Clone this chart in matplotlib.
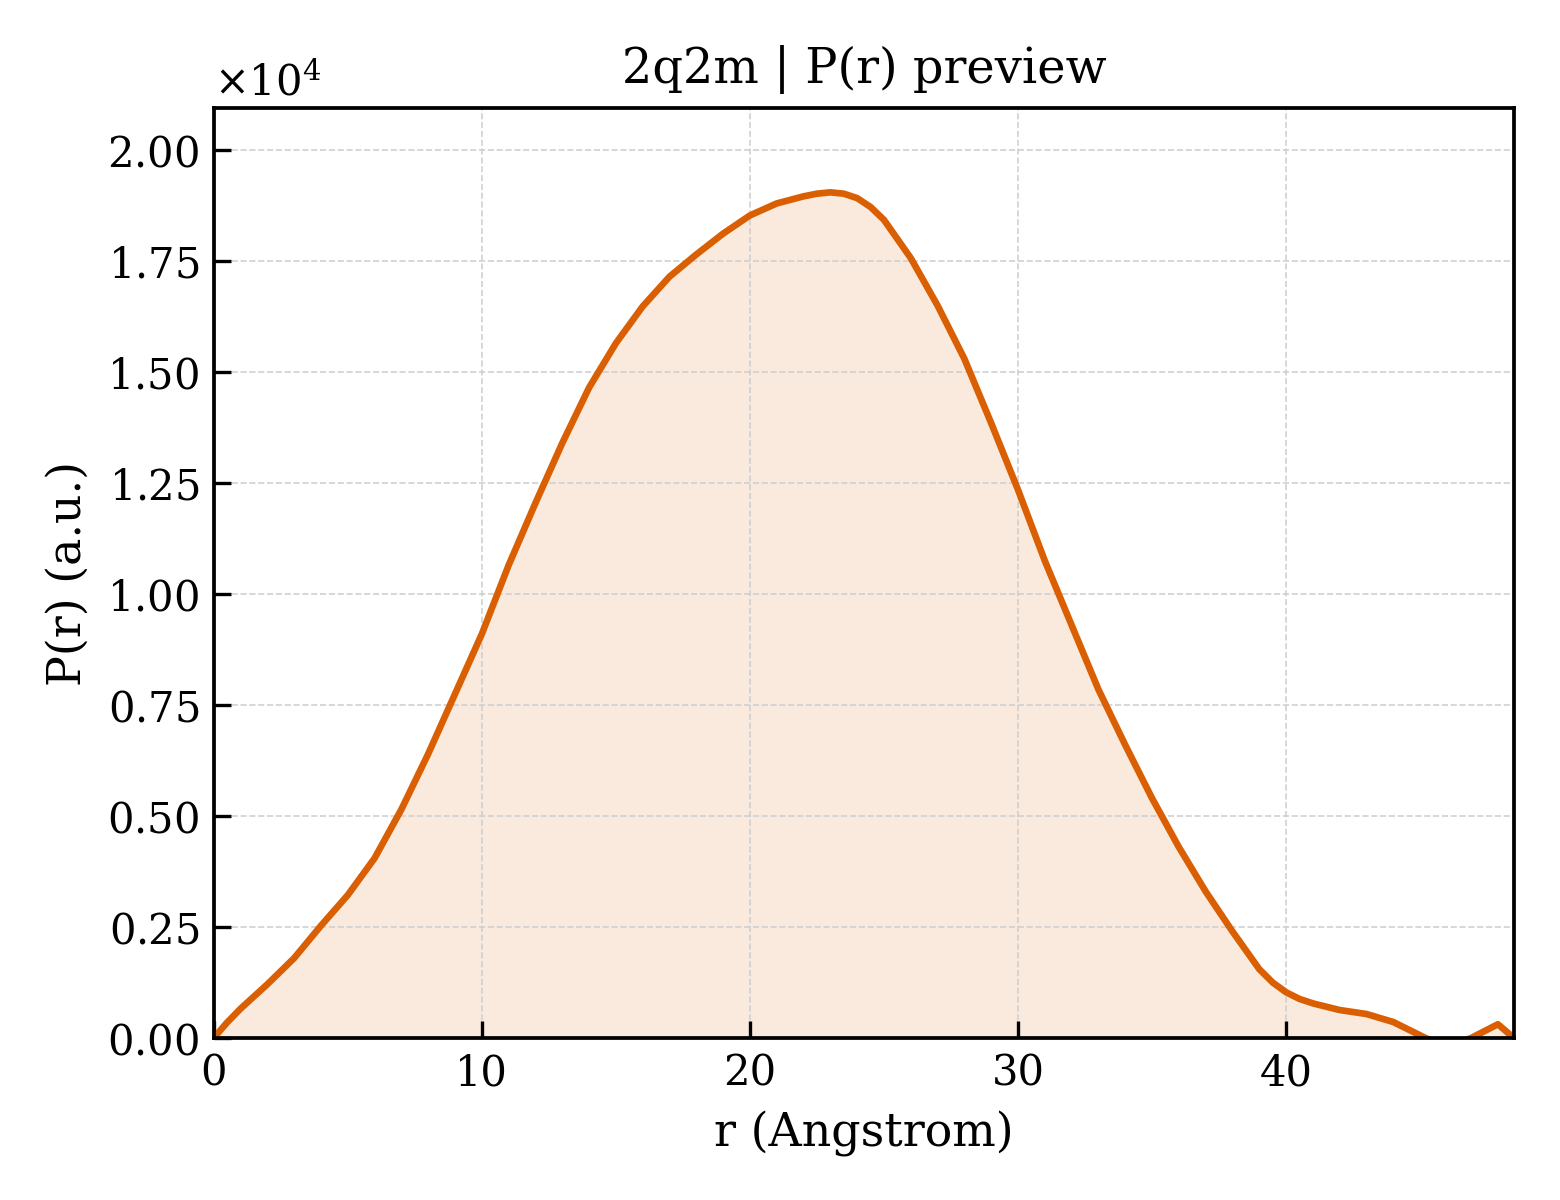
import matplotlib
matplotlib.use("Agg")
import matplotlib.pyplot as plt
from matplotlib.ticker import ScalarFormatter, MultipleLocator

# P(r) curve (r in Angstrom, P in a.u.)
r = [0.0, 0.5, 1.0, 2.0, 3.0, 4.0, 5.0, 6.0, 7.0, 8.0, 9.0, 10.0,
     11.0, 12.0, 13.0, 14.0, 15.0, 16.0, 17.0, 18.0, 19.0, 20.0,
     21.0, 22.0, 22.5, 23.0, 23.5, 24.0, 24.5, 25.0, 26.0, 27.0, 28.0,
     29.0, 30.0, 31.0, 32.0, 33.0, 34.0, 35.0, 36.0, 37.0, 38.0, 39.0,
     39.5, 40.0, 40.5, 41.0, 42.0, 43.0, 44.0, 45.2, 46.0, 46.9, 47.9, 48.5]
pr = [0, 350, 660, 1210, 1800, 2530, 3220, 4050, 5150, 6400, 7750, 9100,
      10650, 12050, 13400, 14650, 15650, 16480, 17150, 17650, 18120, 18530,
      18800, 18960, 19020, 19050, 19020, 18920, 18720, 18430, 17570, 16500, 15300,
      13850, 12350, 10750, 9300, 7850, 6600, 5400, 4300, 3300, 2400, 1550,
      1250, 1030, 880, 780, 630, 540, 360, 0, -200, 0, 310, 0]

color = "#d95f02"

plt.rcParams['font.family'] = ['DejaVu Serif']
plt.rcParams['mathtext.fontset'] = 'dejavuserif'

fig = plt.figure(figsize=(5.2, 4), dpi=300)
ax = fig.add_axes([0.137, 0.135, 0.8335, 0.775])

ax.fill_between(r, pr, 0, color=color, alpha=0.13, linewidth=0)
ax.plot(r, pr, color=color, lw=1.6)

ax.set_xlim(0, 48.5)
ax.set_ylim(0, 20950)
ax.xaxis.set_major_locator(MultipleLocator(10))
ax.yaxis.set_major_locator(MultipleLocator(2500))
fmt = ScalarFormatter(useMathText=True)
fmt.set_powerlimits((0, 0))
ax.yaxis.set_major_formatter(fmt)
ax.yaxis.get_offset_text().set_fontsize(10)

ax.tick_params(direction='in', labelsize=10, length=4, width=0.8)
ax.grid(True, ls='--', lw=0.4, color='#cccccc', alpha=0.9)
for s in ax.spines.values():
    s.set_linewidth(0.9)

ax.set_title("2q2m | P(r) preview", fontsize=11.5)
ax.set_xlabel("r (Angstrom)", fontsize=11)
ax.set_ylabel("P(r) (a.u.)", fontsize=11)

fig.savefig("out.png", dpi=300)
